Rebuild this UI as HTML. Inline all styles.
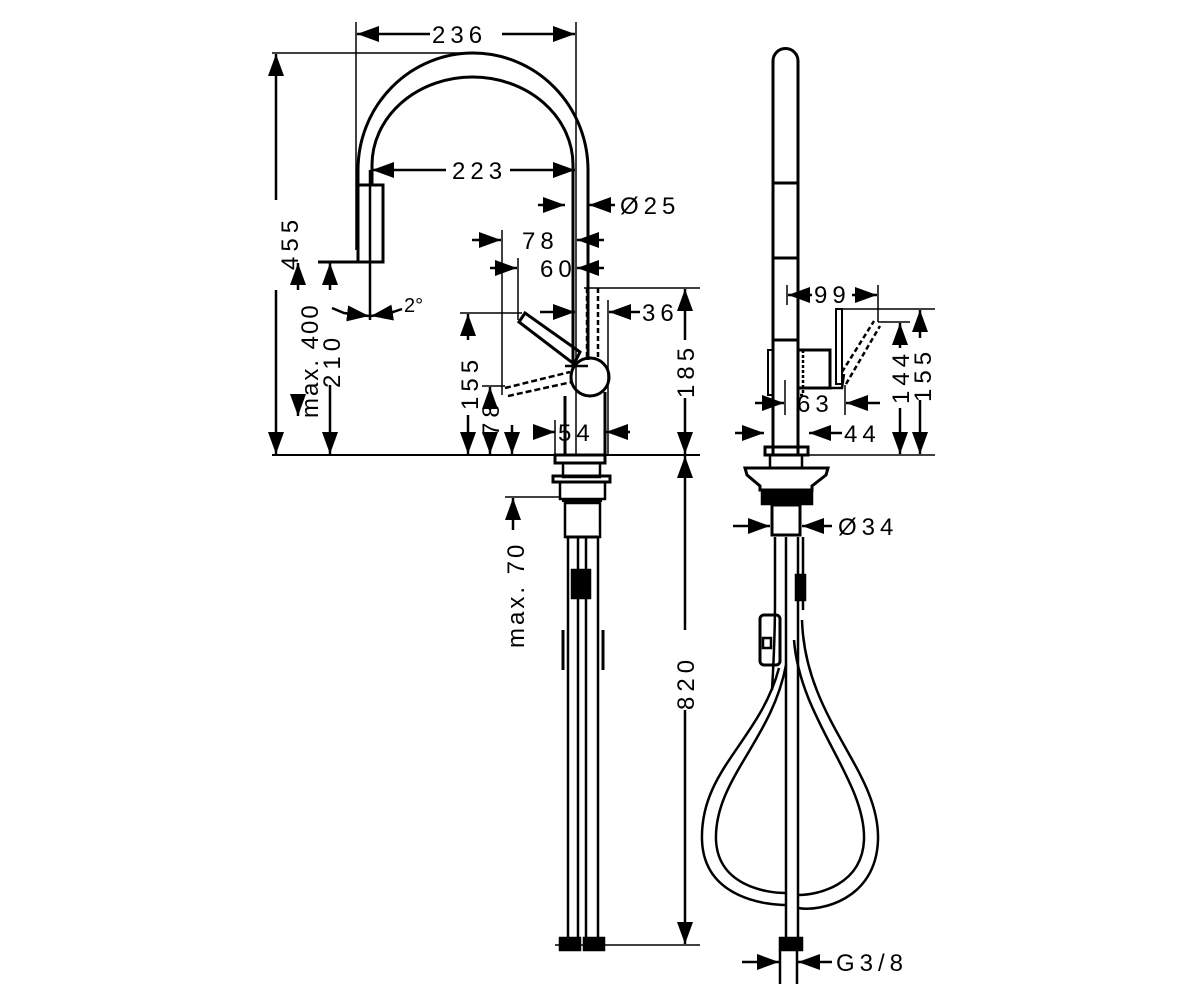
<!DOCTYPE html>
<html><head><meta charset="utf-8"><style>
html,body{margin:0;padding:0;background:#fff;width:1200px;height:984px;overflow:hidden}
svg{display:block}
text{font-family:"Liberation Sans",sans-serif;font-size:24px;fill:#000;letter-spacing:5px}
</style></head><body>
<svg width="1200" height="984" viewBox="0 0 1200 984" xmlns="http://www.w3.org/2000/svg">
<defs>
<marker id="a" viewBox="0 0 22 16" refX="22" refY="8" markerWidth="22" markerHeight="16" markerUnits="userSpaceOnUse" orient="auto"><path d="M0,0 L22,8 L0,16 Z" fill="#000"/></marker>
</defs>
<g stroke="#000" stroke-width="2.5" fill="none">
<path d="M358,262 L358,170 A115,117 0 0 1 588,170 L588,360" stroke-width="3"/>
<path d="M372,185 L372,165 A100.5,88 0 0 1 573,165 L573,368" stroke-width="3"/>
<path d="M358,185 L383,185 L383,262 L318,262" stroke-width="3"/>
<line x1="370" y1="170" x2="370" y2="320"/>
<path d="M587,288 L587,360 M598,288 L598,360" stroke-dasharray="5,3"/>
<line x1="584" y1="288" x2="700" y2="288" stroke-width="1.5"/>
<circle cx="590" cy="377" r="19" stroke-width="3"/>
<path d="M519,322 L525,313 L580,352 L574,364 Z" stroke-width="3"/>
<line x1="565" y1="366" x2="588" y2="366"/>
<path d="M505,388 L570,372 M508,396 L572,382" stroke-dasharray="6,3"/>
<path d="M565,396 L565,455 M605,392 L605,455" stroke-width="3"/>
<line x1="272" y1="455" x2="700" y2="455" stroke-width="2"/>
<rect x="555" y="455" width="50" height="8" stroke-width="3"/>
<rect x="563" y="463" width="37" height="14"/>
<rect x="553" y="476" width="57" height="6" stroke-width="3"/>
<rect x="560" y="482" width="45" height="17"/>
<line x1="562" y1="500" x2="602" y2="500" stroke-width="4"/>
<rect x="565" y="503" width="35" height="34"/>
<line x1="566" y1="537" x2="598" y2="537" stroke-width="3"/>
<path d="M568,537 L568,940 M578,537 L578,940 M586,537 L586,940 M598,537 L598,940"/>
<rect x="572" y="570" width="18" height="28" fill="#000"/>
<path d="M563,630 L563,670 M603,630 L603,670" stroke-width="3"/>
<rect x="560" y="938" width="20" height="12" fill="#000"/>
<rect x="584" y="938" width="20" height="12" fill="#000"/>
<line x1="555" y1="945" x2="700" y2="945" stroke-width="1.5"/>
<line x1="356" y1="22" x2="356" y2="250" stroke-width="1.5"/>
<line x1="576" y1="22" x2="576" y2="455" stroke-width="1.5"/>
<line x1="430" y1="34" x2="357" y2="34" marker-end="url(#a)"/>
<line x1="502" y1="34" x2="575" y2="34" marker-end="url(#a)"/>
<line x1="272" y1="53" x2="470" y2="53" stroke-width="1.5"/>
<line x1="276" y1="200" x2="276" y2="54" marker-end="url(#a)"/>
<line x1="276" y1="290" x2="276" y2="454" marker-end="url(#a)"/>
<line x1="446" y1="170" x2="372" y2="170" marker-end="url(#a)"/>
<line x1="510" y1="170" x2="575" y2="170" marker-end="url(#a)"/>
<line x1="538" y1="205" x2="565" y2="205" marker-end="url(#a)"/>
<line x1="615" y1="205" x2="589" y2="205" marker-end="url(#a)"/>
<line x1="472" y1="240" x2="501" y2="240" marker-end="url(#a)"/>
<line x1="604" y1="240" x2="577" y2="240" marker-end="url(#a)"/>
<line x1="490" y1="268" x2="517" y2="268" marker-end="url(#a)"/>
<line x1="604" y1="268" x2="577" y2="268" marker-end="url(#a)"/>
<line x1="502" y1="230" x2="502" y2="395" stroke-width="1.5"/>
<line x1="518" y1="258" x2="518" y2="320" stroke-width="1.5"/>
<line x1="540" y1="312" x2="575" y2="312" marker-end="url(#a)"/>
<line x1="640" y1="312" x2="609" y2="312" marker-end="url(#a)"/>
<line x1="608" y1="300" x2="608" y2="455" stroke-width="1.5"/>
<line x1="685" y1="340" x2="685" y2="289" marker-end="url(#a)"/>
<line x1="685" y1="398" x2="685" y2="454" marker-end="url(#a)"/>
<line x1="460" y1="313" x2="522" y2="313" stroke-width="1.5"/>
<line x1="468" y1="340" x2="468" y2="314" marker-end="url(#a)"/>
<line x1="468" y1="415" x2="468" y2="454" marker-end="url(#a)"/>
<line x1="482" y1="386" x2="505" y2="386" stroke-width="1.5"/>
<line x1="490" y1="410" x2="490" y2="387" marker-end="url(#a)"/>
<line x1="490" y1="432" x2="490" y2="454" marker-end="url(#a)"/>
<line x1="512" y1="425" x2="512" y2="454" marker-end="url(#a)"/>
<line x1="535" y1="432" x2="555" y2="432" marker-end="url(#a)"/>
<line x1="630" y1="432" x2="606" y2="432" marker-end="url(#a)"/>
<line x1="555" y1="420" x2="555" y2="455" stroke-width="1.5"/>
<line x1="298" y1="290" x2="298" y2="263" marker-end="url(#a)"/>
<line x1="298" y1="396" x2="298" y2="416" marker-end="url(#a)"/>
<line x1="330" y1="290" x2="330" y2="263" marker-end="url(#a)"/>
<line x1="330" y1="385" x2="330" y2="454" marker-end="url(#a)"/>
<path d="M332,308 L344,313 L369,316" marker-end="url(#a)"/>
<path d="M402,309 L390,313 L371,316" marker-end="url(#a)"/>
<line x1="505" y1="497" x2="560" y2="497" stroke-width="1.5"/>
<line x1="513" y1="530" x2="513" y2="498" marker-end="url(#a)"/>
<line x1="685" y1="630" x2="685" y2="456" marker-end="url(#a)"/>
<line x1="685" y1="710" x2="685" y2="944" marker-end="url(#a)"/>
<path d="M773,455 L773,61 A12.5,12.5 0 0 1 798,61 L798,455" stroke-width="3"/>
<path d="M773,183 L798,183 M773,258 L798,258 M773,340 L798,340" stroke-width="3"/>
<rect x="768" y="350" width="5" height="45" stroke-width="2"/>
<rect x="798" y="350" width="5" height="45" stroke-dasharray="3,2"/>
<rect x="798" y="350" width="32" height="38" stroke-width="3"/>
<rect x="836" y="309" width="6" height="75" stroke-width="2"/>
<path d="M842,372 L874,321 M846,384 L880,326" stroke-dasharray="5,3"/>
<path d="M830,388 L842,388 L844,374"/>
<rect x="765" y="447" width="43" height="8" stroke-width="3"/>
<line x1="800" y1="455" x2="935" y2="455" stroke-width="1.5"/>
<rect x="770" y="455" width="32" height="13"/>
<path d="M745,468 L828,468 L826,475 L812,486 L812,490 L760,490 L760,486 L747,475 Z" stroke-width="3"/>
<rect x="762" y="492" width="50" height="12" fill="#000"/>
<rect x="772" y="505" width="28" height="30" stroke-width="3"/>
<path d="M775,537 L775,600 Q775,640 772,690 M786,537 L786,940 M798,537 L798,940 M803,537 L803,610"/>
<rect x="796" y="575" width="9" height="25" fill="#000"/>
<rect x="760" y="615" width="20" height="50" rx="4" stroke-width="3"/>
<rect x="763" y="638" width="8" height="10"/>
<path d="M779,668 C760,740 700,770 702,840 C704,900 770,905 786,905 M802,620 C805,720 880,770 878,840 C876,900 820,912 798,908"/>
<path d="M786,665 C772,740 714,780 716,840 C718,885 765,893 786,893 M794,640 C800,720 866,780 864,840 C862,885 818,895 798,895"/>
<rect x="780" y="938" width="22" height="12" fill="#000"/>
<line x1="780" y1="950" x2="780" y2="984"/><line x1="797" y1="950" x2="797" y2="984"/>
<line x1="787" y1="285" x2="787" y2="305" stroke-width="1.5"/>
<line x1="878" y1="285" x2="878" y2="322" stroke-width="1.5"/>
<line x1="812" y1="295" x2="788" y2="295" marker-end="url(#a)"/>
<line x1="852" y1="295" x2="877" y2="295" marker-end="url(#a)"/>
<line x1="842" y1="309" x2="935" y2="309" stroke-width="1.5"/>
<line x1="878" y1="322" x2="910" y2="322" stroke-width="1.5"/>
<line x1="900" y1="348" x2="900" y2="323" marker-end="url(#a)"/>
<line x1="900" y1="408" x2="900" y2="454" marker-end="url(#a)"/>
<line x1="920" y1="338" x2="920" y2="310" marker-end="url(#a)"/>
<line x1="920" y1="400" x2="920" y2="454" marker-end="url(#a)"/>
<line x1="785" y1="380" x2="785" y2="415" stroke-width="1.5"/>
<line x1="845" y1="385" x2="845" y2="415" stroke-width="1.5"/>
<line x1="755" y1="403" x2="784" y2="403" marker-end="url(#a)"/>
<line x1="880" y1="403" x2="846" y2="403" marker-end="url(#a)"/>
<line x1="735" y1="433" x2="764" y2="433" marker-end="url(#a)"/>
<line x1="842" y1="433" x2="809" y2="433" marker-end="url(#a)"/>
<line x1="733" y1="526" x2="770" y2="526" marker-end="url(#a)"/>
<line x1="832" y1="526" x2="802" y2="526" marker-end="url(#a)"/>
<line x1="742" y1="962" x2="779" y2="962" marker-end="url(#a)"/>
<line x1="832" y1="962" x2="798" y2="962" marker-end="url(#a)"/>
</g>
<text x="432" y="43">236</text>
<text x="452" y="179">223</text>
<text x="620" y="214">Ø25</text>
<text x="522" y="249">78</text>
<text x="540" y="277">60</text>
<text x="642" y="321">36</text>
<text x="558" y="441">54</text>
<text x="404" y="312" style="font-size:20px;letter-spacing:0">2°</text>
<text transform="translate(298,270) rotate(-90)">455</text>
<text transform="translate(318,418) rotate(-90)" style="letter-spacing:2px">max. 400</text>
<text transform="translate(340,388) rotate(-90)">210</text>
<text transform="translate(478,410) rotate(-90)">155</text>
<text transform="translate(499,436) rotate(-90)">78</text>
<text transform="translate(694,398) rotate(-90)">185</text>
<text transform="translate(524,648) rotate(-90)" style="letter-spacing:3px">max. 70</text>
<text transform="translate(694,710) rotate(-90)">820</text>
<text x="814" y="303">99</text>
<text x="797" y="412">63</text>
<text x="844" y="442">44</text>
<text x="838" y="535">Ø34</text>
<text x="836" y="971">G3/8</text>
<text transform="translate(909,404) rotate(-90)">144</text>
<text transform="translate(931,402) rotate(-90)">155</text>
</svg>
</body></html>
